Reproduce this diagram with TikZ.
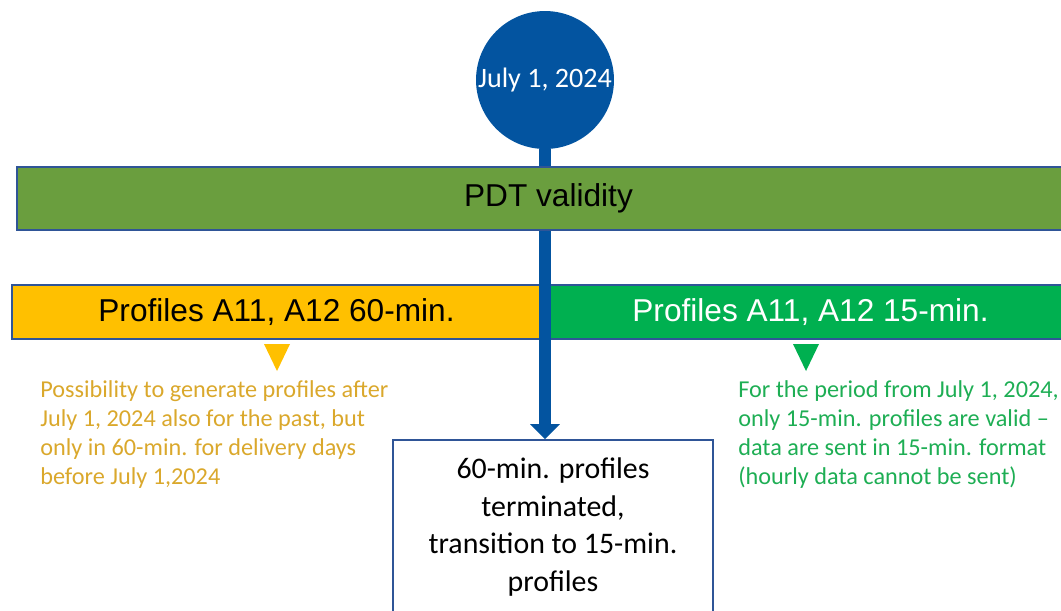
\documentclass[tikz,border=0pt]{standalone}
\usepackage{fontspec}
\setmainfont{Carlito}
\newfontfamily\arialfont{Liberation Sans}
\usetikzlibrary{arrows.meta}

\definecolor{dateblue}{RGB}{3,84,160}
\definecolor{edgeblue}{RGB}{47,85,151}
\definecolor{pdtgreen}{RGB}{106,158,62}
\definecolor{oldyellow}{RGB}{255,192,0}
\definecolor{newgreen}{RGB}{0,176,80}
\definecolor{oldtext}{RGB}{218,168,44}
\definecolor{newtext}{RGB}{30,174,84}

\begin{document}
\begin{tikzpicture}[x=0.02cm,y=-0.02cm,
  bar/.style={draw=edgeblue,line width=1.1pt,inner sep=0pt,font=\arialfont\fontsize{18}{20}\selectfont},
  note/.style={anchor=north west,align=left,inner sep=0pt,font=\fontsize{13.8}{16.5}\selectfont}]
\clip (0,0) rectangle (1061,610);

\node[bar,fill=oldyellow,minimum width=10.58cm,minimum height=1.08cm] (old) at (276.5,312) {Profiles A11, A12 60-min.};
\node[bar,fill=newgreen,text=white,minimum width=10.78cm,minimum height=1.08cm] (new) at (810.5,312) {Profiles A11, A12 15-min.};

\node[draw=edgeblue,line width=1.1pt,fill=white,minimum width=6.4cm,minimum height=3.48cm,align=center,
  font=\fontsize{17}{21.5}\selectfont] (trans) at (553,527)
  {60-min. profiles\\terminated,\\transition to 15-min.\\profiles};

\node[circle,fill=dateblue,minimum size=2.76cm,inner sep=0pt,text=white,font=\fontsize{16}{18}\selectfont] (date) at (545,80) {July 1, 2024};
\path[draw,dateblue,line width=0.24cm,-{Triangle[width=0.58cm,length=0.3cm]}] (date.south) -- (date.south |- trans.north);

\node[bar,fill=pdtgreen,minimum width=21.26cm,minimum height=1.26cm] (pdt) at (548.5,198.5) {PDT validity};

\fill[oldyellow] (264,344) -- (290,344) -- (277,371) -- cycle;
\fill[newgreen] (793,344) -- (819,344) -- (806,371) -- cycle;

\node[note,text=oldtext] (oldnote) at (40,380)
  {Possibility to generate profiles after\\July 1, 2024 also for the past, but\\only in 60-min. for delivery days\\before July 1,2024};
\node[note,text=newtext] (newnote) at (738,380)
  {For the period from July 1, 2024,\\only 15-min. profiles are valid --\\data are sent in 15-min. format\\(hourly data cannot be sent)};
\end{tikzpicture}
\end{document}
